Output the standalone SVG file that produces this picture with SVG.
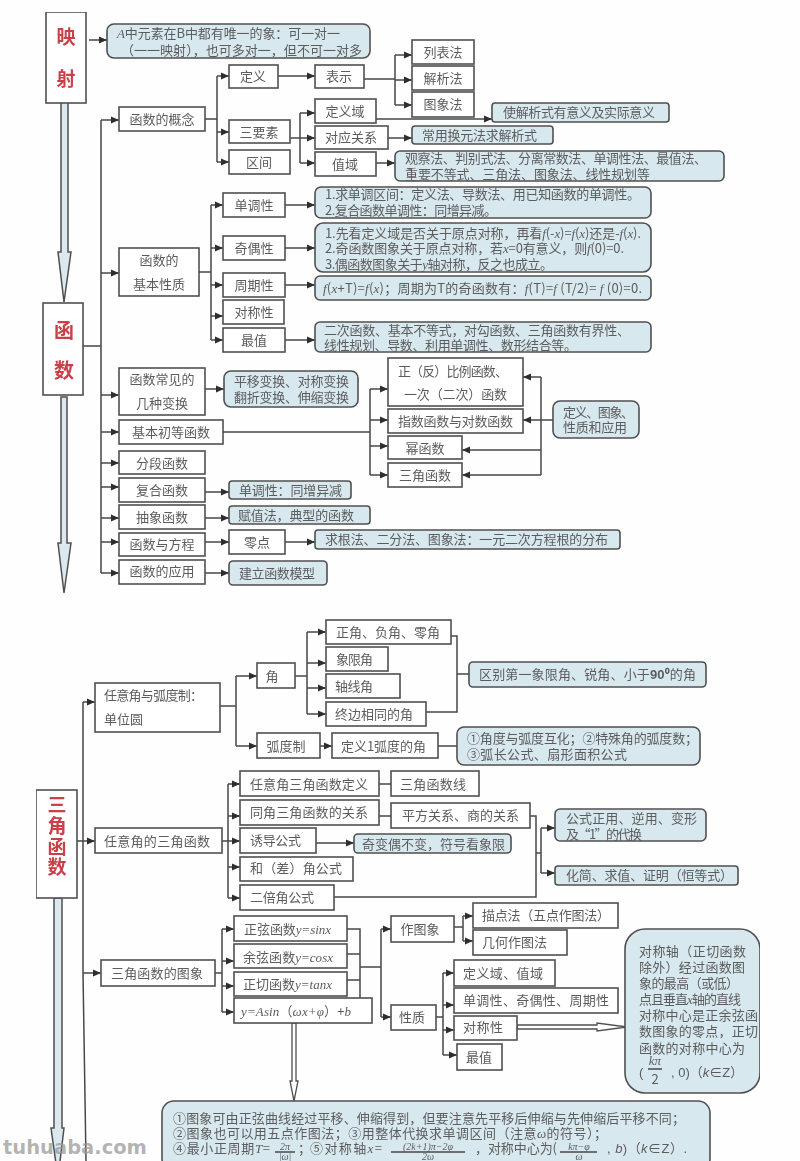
<svg xmlns="http://www.w3.org/2000/svg" width="800" height="1161" viewBox="0 0 800 1161">
<defs>
<marker id="ah" viewBox="0 0 8 8" refX="8" refY="4" markerWidth="8" markerHeight="8" markerUnits="userSpaceOnUse" orient="auto"><path d="M0 .5L8 4L0 7.5z" fill="#2f2f2f"/></marker>
<filter id="soft" x="0" y="0" width="100%" height="100%"><feGaussianBlur stdDeviation="0.4"/></filter>
</defs>
<style>
text{font-family:"Noto Sans CJK SC","Liberation Serif",serif;font-size:13px;fill:#5c5c5c}
.m{text-anchor:middle}
.r{font-size:19px;fill:#c9404a;text-anchor:middle;font-weight:bold}
.f{font-family:"Liberation Serif","Noto Sans CJK SC",serif;font-style:italic}
.h{font-family:"Liberation Sans","Noto Sans CJK SC",sans-serif}
.sm{font-size:10px}
.b{fill:#fff;stroke:#505050;stroke-width:1.6}
.u{fill:#d8e8ef;stroke:#505050;stroke-width:1.6}
.c{fill:none;stroke:#484848;stroke-width:1.5}
.a{fill:none;stroke:#484848;stroke-width:1.5;marker-end:url(#ah)}
.big{fill:#dbe9ee;stroke:#505050;stroke-width:1.5}
.hol{fill:#fff;stroke:#505050;stroke-width:1.3}
.w{font-family:"DejaVu Sans",sans-serif;font-weight:bold;font-size:19.5px;fill:#9a9a9a;fill-opacity:.75}
</style>
<rect width="800" height="1161" fill="#fefefe"/>
<g filter="url(#soft)">
<g id="big-arrows">
<polygon class="big" points="61,101 68,101 68,252 71,252 64,302 58,252 61,252"/>
<polygon class="big" points="61,397 67,397 67,543 71,543 64,593 58,543 61,543"/>
<polygon class="big" points="54,898 62,898 62,1128 64,1128 58,1178 51,1128 54,1128"/>
<polygon class="hol" points="292,1023 296,1023 296,1081 298,1081 294,1101 290,1081 292,1081"/>
<polygon class="hol" points="517,1025 597,1025 597,1023 627,1027 597,1031 597,1029 517,1029"/>
</g>
<g id="connectors">
<path class="a" d="M89 40H107"/>
<path class="c" d="M83 346H101M101 120V573"/>
<path class="a" d="M101 120H119"/><path class="a" d="M101 273H119"/><path class="a" d="M101 395H119"/><path class="a" d="M101 432H119"/><path class="a" d="M101 463H119"/><path class="a" d="M101 487H119"/><path class="a" d="M101 518H119"/><path class="a" d="M101 542H119"/><path class="a" d="M101 573H119"/>
<path class="c" d="M205 119H217M217 76V162"/>
<path class="a" d="M217 76H229"/><path class="a" d="M217 132H229"/><path class="a" d="M217 162H229"/>
<path class="a" d="M278 76H315"/>
<path class="c" d="M364 79H395M395 55V105"/>
<path class="a" d="M395 55H412"/><path class="a" d="M395 80H412"/><path class="a" d="M395 105H412"/>
<path class="c" d="M290 138H300M300 113V163"/>
<path class="a" d="M300 113H315"/><path class="a" d="M300 138H315"/><path class="a" d="M300 163H315"/>
<path class="a" d="M376 119H492"/><path class="a" d="M388 138H412"/><path class="a" d="M376 163H395"/>
<path class="c" d="M199 272H211M211 205V340"/>
<path class="a" d="M211 205H223"/><path class="a" d="M211 248H223"/><path class="a" d="M211 285H223"/><path class="a" d="M211 316H223"/><path class="a" d="M211 340H223"/>
<path class="a" d="M285 205H315"/><path class="a" d="M285 248H315"/><path class="a" d="M285 285H315"/><path class="a" d="M285 340H315"/>
<path class="a" d="M205 389H224"/>
<path class="c" d="M223 432H370M370 389V475"/>
<path class="a" d="M370 389H388"/><path class="a" d="M370 420H388"/><path class="a" d="M370 446H388"/><path class="a" d="M370 475H388"/>
<path class="c" d="M541 377V475"/>
<path class="a" d="M553 420H523"/><path class="a" d="M541 377H523"/><path class="a" d="M541 450H462"/><path class="a" d="M541 475H462"/>
<path class="a" d="M205 492H229"/><path class="a" d="M205 518H229"/><path class="a" d="M205 542H229"/><path class="a" d="M285 542H315"/><path class="a" d="M205 573H229"/>
<path class="c" d="M83 702V973L86 1161"/>
<path class="a" d="M83 702H95"/><path class="a" d="M77 841H95"/><path class="a" d="M83 973H101"/>
<path class="c" d="M220 706H236M236 676V746"/>
<path class="a" d="M236 676H257"/><path class="a" d="M236 746H257"/>
<path class="c" d="M295 676H307M307 632V714"/>
<path class="a" d="M307 632H326"/><path class="a" d="M307 663H326"/><path class="a" d="M307 688H326"/><path class="a" d="M307 714H326"/>
<path class="a" d="M320 746H332"/>
<path class="c" d="M451 636H457V712H426M457 674H469"/>
<path class="c" d="M438 746H457"/>
<path class="c" d="M222 841H228M228 784V898"/>
<path class="a" d="M228 784H240"/><path class="a" d="M228 816H240"/><path class="a" d="M228 841H240"/><path class="a" d="M228 867H240"/><path class="a" d="M228 898H240"/>
<path class="c" d="M379 784H391M379 816H391"/>
<path class="a" d="M316 843H354"/>
<path class="c" d="M530 816H536V897H334M536 853H541M541 828V873"/>
<path class="a" d="M541 828H555"/><path class="a" d="M541 873H555"/>
<path class="c" d="M215 973H222M222 929V1012"/>
<path class="a" d="M222 929H234"/><path class="a" d="M222 961H234"/><path class="a" d="M222 986H234"/><path class="a" d="M222 1012H234"/>
<path class="c" d="M347 929H360V998M347 954H360M347 980H360M360 967H381M381 929V1017"/>
<path class="a" d="M381 929H391"/><path class="a" d="M381 1017H391"/>
<path class="c" d="M454 927H463M463 916V941"/>
<path class="a" d="M463 916H473"/><path class="a" d="M463 941H473"/>
<path class="c" d="M436 1017H443M443 973V1055"/>
<path class="a" d="M443 973H454"/><path class="a" d="M443 1005H454"/><path class="a" d="M443 1030H454"/><path class="a" d="M443 1055H457"/>
</g>
<g id="n-yingshe"><rect class="b" x="46" y="12" width="40" height="91"/><text class="r" x="66" y="44">映</text><text class="r" x="66" y="86">射</text></g>
<g id="n-a-desc"><rect class="u" x="107" y="24" width="263" height="34" rx="7"/><text x="117" y="38" textLength="223"><tspan class="f">A</tspan>中元素在B中都有唯一的象：可一对一</text><text x="121" y="55" textLength="241">（一一映射），也可多对一，但不可一对多</text></g>
<g id="n-dingyi"><rect class="b" x="229" y="65" width="49" height="23"/><text class="m" x="253" y="81">定义</text></g>
<g id="n-biaoshi"><rect class="b" x="315" y="65" width="49" height="23"/><text class="m" x="339" y="81">表示</text></g>
<g id="n-gainian"><rect class="b" x="119" y="107" width="86" height="24"/><text class="m" x="162" y="124">函数的概念</text></g>
<g id="n-sanyaosu"><rect class="b" x="229" y="120" width="61" height="23"/><text class="m" x="259" y="137">三要素</text></g>
<g id="n-qujian"><rect class="b" x="229" y="150" width="61" height="24"/><text class="m" x="259" y="167">区间</text></g>
<g id="n-dingyiyu"><rect class="b" x="315" y="99" width="61" height="24"/><text class="m" x="345" y="116">定义域</text></g>
<g id="n-duiying"><rect class="b" x="315" y="126" width="73" height="23"/><text class="m" x="351" y="142">对应关系</text></g>
<g id="n-zhiyu"><rect class="b" x="315" y="152" width="61" height="24"/><text class="m" x="345" y="169">值域</text></g>
<g id="n-liebiao"><rect class="b" x="412" y="40" width="62" height="24"/><text class="m" x="443" y="57">列表法</text></g>
<g id="n-jiexi"><rect class="b" x="412" y="66" width="62" height="24"/><text class="m" x="443" y="83">解析法</text></g>
<g id="n-tuxiang"><rect class="b" x="412" y="92" width="62" height="25"/><text class="m" x="443" y="109">图象法</text></g>
<g id="n-shi"><rect class="u" x="492" y="103" width="177" height="19" rx="3"/><text x="503" y="117" textLength="152">使解析式有意义及实际意义</text></g>
<g id="n-changyong"><rect class="u" x="412" y="126" width="141" height="18" rx="3"/><text x="422" y="140" textLength="115">常用换元法求解析式</text></g>
<g id="n-guancha"><rect class="u" x="395" y="151" width="329" height="30" rx="5"/><text x="405" y="163" textLength="302">观察法、判别式法、分离常数法、单调性法、最值法、</text><text x="405" y="179" textLength="245">重要不等式、三角法、图象法、线性规划等</text></g>
<g id="n-dandiao"><rect class="b" x="223" y="193" width="62" height="24"/><text class="m" x="254" y="210">单调性</text></g>
<g id="n-jiou"><rect class="b" x="223" y="236" width="62" height="24"/><text class="m" x="254" y="253">奇偶性</text></g>
<g id="n-zhouqi"><rect class="b" x="223" y="273" width="62" height="24"/><text class="m" x="254" y="290">周期性</text></g>
<g id="n-duichen"><rect class="b" x="223" y="300" width="61" height="24"/><text class="m" x="254" y="317">对称性</text></g>
<g id="n-zuizhi"><rect class="b" x="223" y="328" width="62" height="24"/><text class="m" x="254" y="345">最值</text></g>
<g id="n-xingzhi"><rect class="b" x="119" y="248" width="80" height="48"/><text class="m" x="159" y="265">函数的</text><text class="m" x="159" y="289">基本性质</text></g>
<g id="n-dd-desc"><rect class="u" x="315" y="187" width="336" height="31" rx="6"/><text x="325" y="199" textLength="315">1.求单调区间：定义法、导数法、用已知函数的单调性。</text><text x="325" y="215" textLength="172">2.复合函数单调性：同增异减。</text></g>
<g id="n-jo-desc"><rect class="u" x="315" y="223" width="336" height="49" rx="8"/><text x="325" y="238" textLength="316">1.先看定义域是否关于原点对称，再看<tspan class="f">f</tspan>(-<tspan class="f">x</tspan>)=<tspan class="f">f</tspan>(<tspan class="f">x</tspan>)还是-<tspan class="f">f</tspan>(<tspan class="f">x</tspan>).</text><text x="325" y="253" textLength="299">2.奇函数图象关于原点对称，若<tspan class="f">x</tspan>=0有意义，则<tspan class="f">f</tspan>(0)=0.</text><text x="325" y="269" textLength="228">3.偶函数图象关于<tspan class="f">y</tspan>轴对称，反之也成立。</text></g>
<g id="n-zq-desc"><rect class="u" x="315" y="276" width="336" height="24" rx="5"/><text x="323" y="293" textLength="319"><tspan class="f">f</tspan>(<tspan class="f">x</tspan>+T)=<tspan class="f">f</tspan>(<tspan class="f">x</tspan>)；周期为T的奇函数有：<tspan class="f">f</tspan>(T)=<tspan class="f">f</tspan> (T/2)= <tspan class="f">f</tspan> (0)=0.</text></g>
<g id="n-zz-desc"><rect class="u" x="315" y="322" width="336" height="30" rx="5"/><text x="324" y="335" textLength="306">二次函数、基本不等式，对勾函数、三角函数有界性、</text><text x="324" y="350" textLength="253">线性规划、导数、利用单调性、数形结合等。</text></g>
<g id="n-hanshu"><rect class="b" x="43" y="303" width="40" height="92"/><text class="r" x="64" y="338" style="font-size:20px">函</text><text class="r" x="64" y="378" style="font-size:20px">数</text></g>
<g id="n-bianhuan"><rect class="b" x="119" y="368" width="86" height="47"/><text class="m" x="162" y="384">函数常见的</text><text class="m" x="162" y="408">几种变换</text></g>
<g id="n-chudeng"><rect class="b" x="119" y="420" width="104" height="24"/><text class="m" x="171" y="437">基本初等函数</text></g>
<g id="n-fenduan"><rect class="b" x="119" y="451" width="86" height="23"/><text class="m" x="162" y="468">分段函数</text></g>
<g id="n-fuhe"><rect class="b" x="119" y="478" width="86" height="24"/><text class="m" x="162" y="495">复合函数</text></g>
<g id="n-chouxiang"><rect class="b" x="119" y="505" width="86" height="24"/><text class="m" x="162" y="522">抽象函数</text></g>
<g id="n-fangcheng"><rect class="b" x="119" y="533" width="86" height="23"/><text class="m" x="162" y="549">函数与方程</text></g>
<g id="n-yingyong"><rect class="b" x="119" y="560" width="86" height="24"/><text class="m" x="162" y="576">函数的应用</text></g>
<g id="n-pingyi"><rect class="u" x="224" y="371" width="134" height="36" rx="7"/><text x="234" y="386" textLength="115">平移变换、对称变换</text><text x="234" y="402" textLength="115">翻折变换、伸缩变换</text></g>
<g id="n-fh-desc"><rect class="u" x="229" y="481" width="122" height="18" rx="3"/><text x="239" y="495" textLength="103">单调性：同增异减</text></g>
<g id="n-cx-desc"><rect class="u" x="229" y="506" width="141" height="18" rx="3"/><text x="238" y="520" textLength="116">赋值法，典型的函数</text></g>
<g id="n-lingdian"><rect class="b" x="229" y="530" width="56" height="24"/><text class="m" x="257" y="547">零点</text></g>
<g id="n-qiugen"><rect class="u" x="315" y="530" width="305" height="19" rx="3"/><text x="325" y="544" textLength="283">求根法、二分法、图象法：一元二次方程根的分布</text></g>
<g id="n-jianli"><rect class="u" x="229" y="561" width="98" height="24" rx="4"/><text x="239" y="578" textLength="76">建立函数模型</text></g>
<g id="n-zhengbi"><rect class="b" x="388" y="358" width="135" height="48"/><text x="398" y="376" textLength="110">正（反）比例函数、</text><text x="404" y="399" textLength="103">一次（二次）函数</text></g>
<g id="n-zhishu"><rect class="b" x="388" y="409" width="135" height="24"/><text x="398" y="426" textLength="115">指数函数与对数函数</text></g>
<g id="n-mi"><rect class="b" x="388" y="436" width="74" height="23"/><text class="m" x="425" y="453">幂函数</text></g>
<g id="n-sanjiao"><rect class="b" x="388" y="463" width="74" height="24"/><text class="m" x="425" y="480">三角函数</text></g>
<g id="n-dytx"><rect class="u" x="553" y="401" width="86" height="37" rx="7"/><text x="563" y="417" textLength="71">定义、图象、</text><text x="563" y="432" textLength="64">性质和应用</text></g>
<g id="n-sjhs"><rect class="b" x="36" y="790" width="41" height="108"/><text class="r" x="57" y="812">三</text><text class="r" x="57" y="833">角</text><text class="r" x="57" y="854">函</text><text class="r" x="57" y="874">数</text></g>
<g id="n-hudu"><rect class="b" x="95" y="683" width="125" height="49"/><text x="104" y="700" textLength="99">任意角与弧度制：</text><text x="104" y="724" textLength="39">单位圆</text></g>
<g id="n-jiao"><rect class="b" x="257" y="663" width="38" height="25"/><text class="m" x="272" y="681">角</text></g>
<g id="n-hdz"><rect class="b" x="257" y="733" width="63" height="25"/><text class="m" x="286" y="751">弧度制</text></g>
<g id="n-dy1"><rect class="b" x="332" y="733" width="106" height="25"/><text x="341" y="751" textLength="85">定义1弧度的角</text></g>
<g id="n-zj"><rect class="b" x="326" y="620" width="125" height="24"/><text x="336" y="637" textLength="104">正角、负角、零角</text></g>
<g id="n-xx"><rect class="b" x="326" y="647" width="62" height="24"/><text x="336" y="664" textLength="37">象限角</text></g>
<g id="n-zx"><rect class="b" x="326" y="674" width="74" height="24"/><text x="335" y="691" textLength="38">轴线角</text></g>
<g id="n-zb"><rect class="b" x="326" y="702" width="100" height="24"/><text x="335" y="719" textLength="78">终边相同的角</text></g>
<g id="n-qb"><rect class="u" x="469" y="662" width="237" height="25" rx="4"/><text x="479" y="679" textLength="217">区别第一象限角、锐角、小于<tspan class="h" font-weight="bold">90⁰</tspan>的角</text></g>
<g id="n-jdhd"><rect class="u" x="457" y="727" width="243" height="38" rx="7"/><text x="467" y="743" textLength="231">①角度与弧度互化；②特殊角的弧度数；</text><text x="467" y="759" textLength="160">③弧长公式、扇形面积公式</text></g>
<g id="n-rydy"><rect class="b" x="240" y="771" width="139" height="25"/><text x="250" y="789" textLength="118">任意角三角函数定义</text></g>
<g id="n-sjx"><rect class="b" x="391" y="771" width="88" height="25"/><text x="400" y="789" textLength="66">三角函数线</text></g>
<g id="n-tj"><rect class="b" x="240" y="800" width="139" height="25"/><text x="250" y="817" textLength="118">同角三角函数的关系</text></g>
<g id="n-pf"><rect class="b" x="391" y="803" width="139" height="25"/><text x="402" y="820" textLength="117">平方关系、商的关系</text></g>
<g id="n-yd"><rect class="b" x="240" y="828" width="76" height="25"/><text x="250" y="845" textLength="51">诱导公式</text></g>
<g id="n-qb2"><rect class="u" x="354" y="834" width="157" height="19" rx="4"/><text x="362" y="849" textLength="143">奇变偶不变，符号看象限</text></g>
<g id="n-hc"><rect class="b" x="240" y="857" width="113" height="24"/><text x="250" y="873" textLength="92">和（差）角公式</text></g>
<g id="n-eb"><rect class="b" x="240" y="885" width="94" height="25"/><text x="250" y="902" textLength="64">二倍角公式</text></g>
<g id="n-gs"><rect class="u" x="555" y="809" width="151" height="32" rx="5"/><text x="566" y="823" textLength="131">公式正用、逆用、变形</text><text x="566" y="839" textLength="76">及“1”的代换</text></g>
<g id="n-hj"><rect class="u" x="555" y="866" width="183" height="19" rx="3"/><text x="566" y="880" textLength="167">化简、求值、证明（恒等式）</text></g>
<g id="n-ryj"><rect class="b" x="95" y="828" width="127" height="25"/><text x="104" y="846" textLength="106">任意角的三角函数</text></g>
<g id="n-tx"><rect class="b" x="101" y="960" width="114" height="26"/><text x="111" y="978" textLength="92">三角函数的图象</text></g>
<g id="n-zx2"><rect class="b" x="234" y="916" width="113" height="25"/><text x="244" y="934" textLength="87">正弦函数<tspan class="f">y=sinx</tspan></text></g>
<g id="n-yx"><rect class="b" x="234" y="944" width="113" height="24"/><text x="243" y="962" textLength="90">余弦函数<tspan class="f">y=cosx</tspan></text></g>
<g id="n-zq"><rect class="b" x="234" y="972" width="113" height="24"/><text x="243" y="989" textLength="89">正切函数<tspan class="f">y=tanx</tspan></text></g>
<g id="n-asin"><rect class="b" x="234" y="998" width="138" height="25"/><text x="241" y="1016" textLength="110"><tspan class="f">y=Asin</tspan>（<tspan class="f">ωx+φ</tspan>）+<tspan class="f">b</tspan></text></g>
<g id="n-ztx"><rect class="b" x="391" y="916" width="63" height="26"/><text class="m" x="420" y="934">作图象</text></g>
<g id="n-xz"><rect class="b" x="391" y="1005" width="45" height="25"/><text class="m" x="412" y="1022">性质</text></g>
<g id="n-md"><rect class="b" x="473" y="903" width="145" height="25"/><text x="482" y="920" textLength="128">描点法（五点作图法）</text></g>
<g id="n-jh"><rect class="b" x="473" y="930" width="94" height="25"/><text x="482" y="947" textLength="65">几何作图法</text></g>
<g id="n-dyz"><rect class="b" x="454" y="960" width="101" height="26"/><text x="463" y="978" textLength="80">定义域、值域</text></g>
<g id="n-ddx"><rect class="b" x="454" y="988" width="164" height="25"/><text x="463" y="1005" textLength="146">单调性、奇偶性、周期性</text></g>
<g id="n-dcx"><rect class="b" x="454" y="1016" width="63" height="24"/><text x="463" y="1032" textLength="40">对称性</text></g>
<g id="n-zz"><rect class="b" x="457" y="1044" width="45" height="26"/><text x="466" y="1062" textLength="26">最值</text></g>
<g id="n-callout"><rect class="u" x="625" y="929" width="135" height="164" rx="20"/>
<text x="639" y="956" textLength="107">对称轴（正切函数</text>
<text x="639" y="972" textLength="106">除外）经过函数图</text>
<text x="639" y="988" textLength="100">象的最高（或低）</text>
<text x="639" y="1004" textLength="102">点且垂直<tspan class="f">x</tspan>轴的直线</text>
<text x="639" y="1020" textLength="119">对称中心是正余弦函</text>
<text x="639" y="1036" textLength="119">数图象的零点，正切</text>
<text x="639" y="1053" textLength="106">函数的对称中心为</text>
<text class="h" x="639" y="1077">(</text><text class="f m" x="655" y="1065">kπ</text><path class="c" d="M648 1069H662"/><text class="m" x="655" y="1084">2</text><text class="h" x="671" y="1077">, 0)（<tspan font-style="italic">k</tspan>∈Z）</text></g>
<g id="n-bottom"><rect class="u" x="162" y="1101" width="548" height="70" rx="12"/>
<text x="173" y="1123" textLength="512">①图象可由正弦曲线经过平移、伸缩得到，但要注意先平移后伸缩与先伸缩后平移不同；</text>
<text x="173" y="1138" textLength="434">②图象也可以用五点作图法；③用整体代换求单调区间（注意<tspan class="f">ω</tspan>的符号）；</text>
<text x="173" y="1153" textLength="97">④最小正周期<tspan class="f">T</tspan>=</text>
<text class="f m sm" x="285" y="1150">2π</text><path class="c" d="M275 1152H295"/><text class="f m sm" x="285" y="1160">|ω|</text>
<text x="298" y="1153">；</text><text x="310" y="1153" textLength="72">⑤对称轴<tspan class="f">x</tspan>=</text>
<text class="f m sm" x="428" y="1150">(2k+1)π−2φ</text><path class="c" d="M391 1152H465"/><text class="f m sm" x="428" y="1160">2ω</text>
<text x="475" y="1153" textLength="82">，对称中心为(</text>
<text class="f m sm" x="579" y="1150">kπ−φ</text><path class="c" d="M560 1152H597"/><text class="f m sm" x="579" y="1160">ω</text>
<text class="h" x="607" y="1153" textLength="80">, <tspan font-style="italic">b</tspan>)（<tspan font-style="italic">k</tspan>∈Z）.</text></g>
</g>
<text class="w" x="3" y="1154">tuhuaba.com</text>
</svg>
